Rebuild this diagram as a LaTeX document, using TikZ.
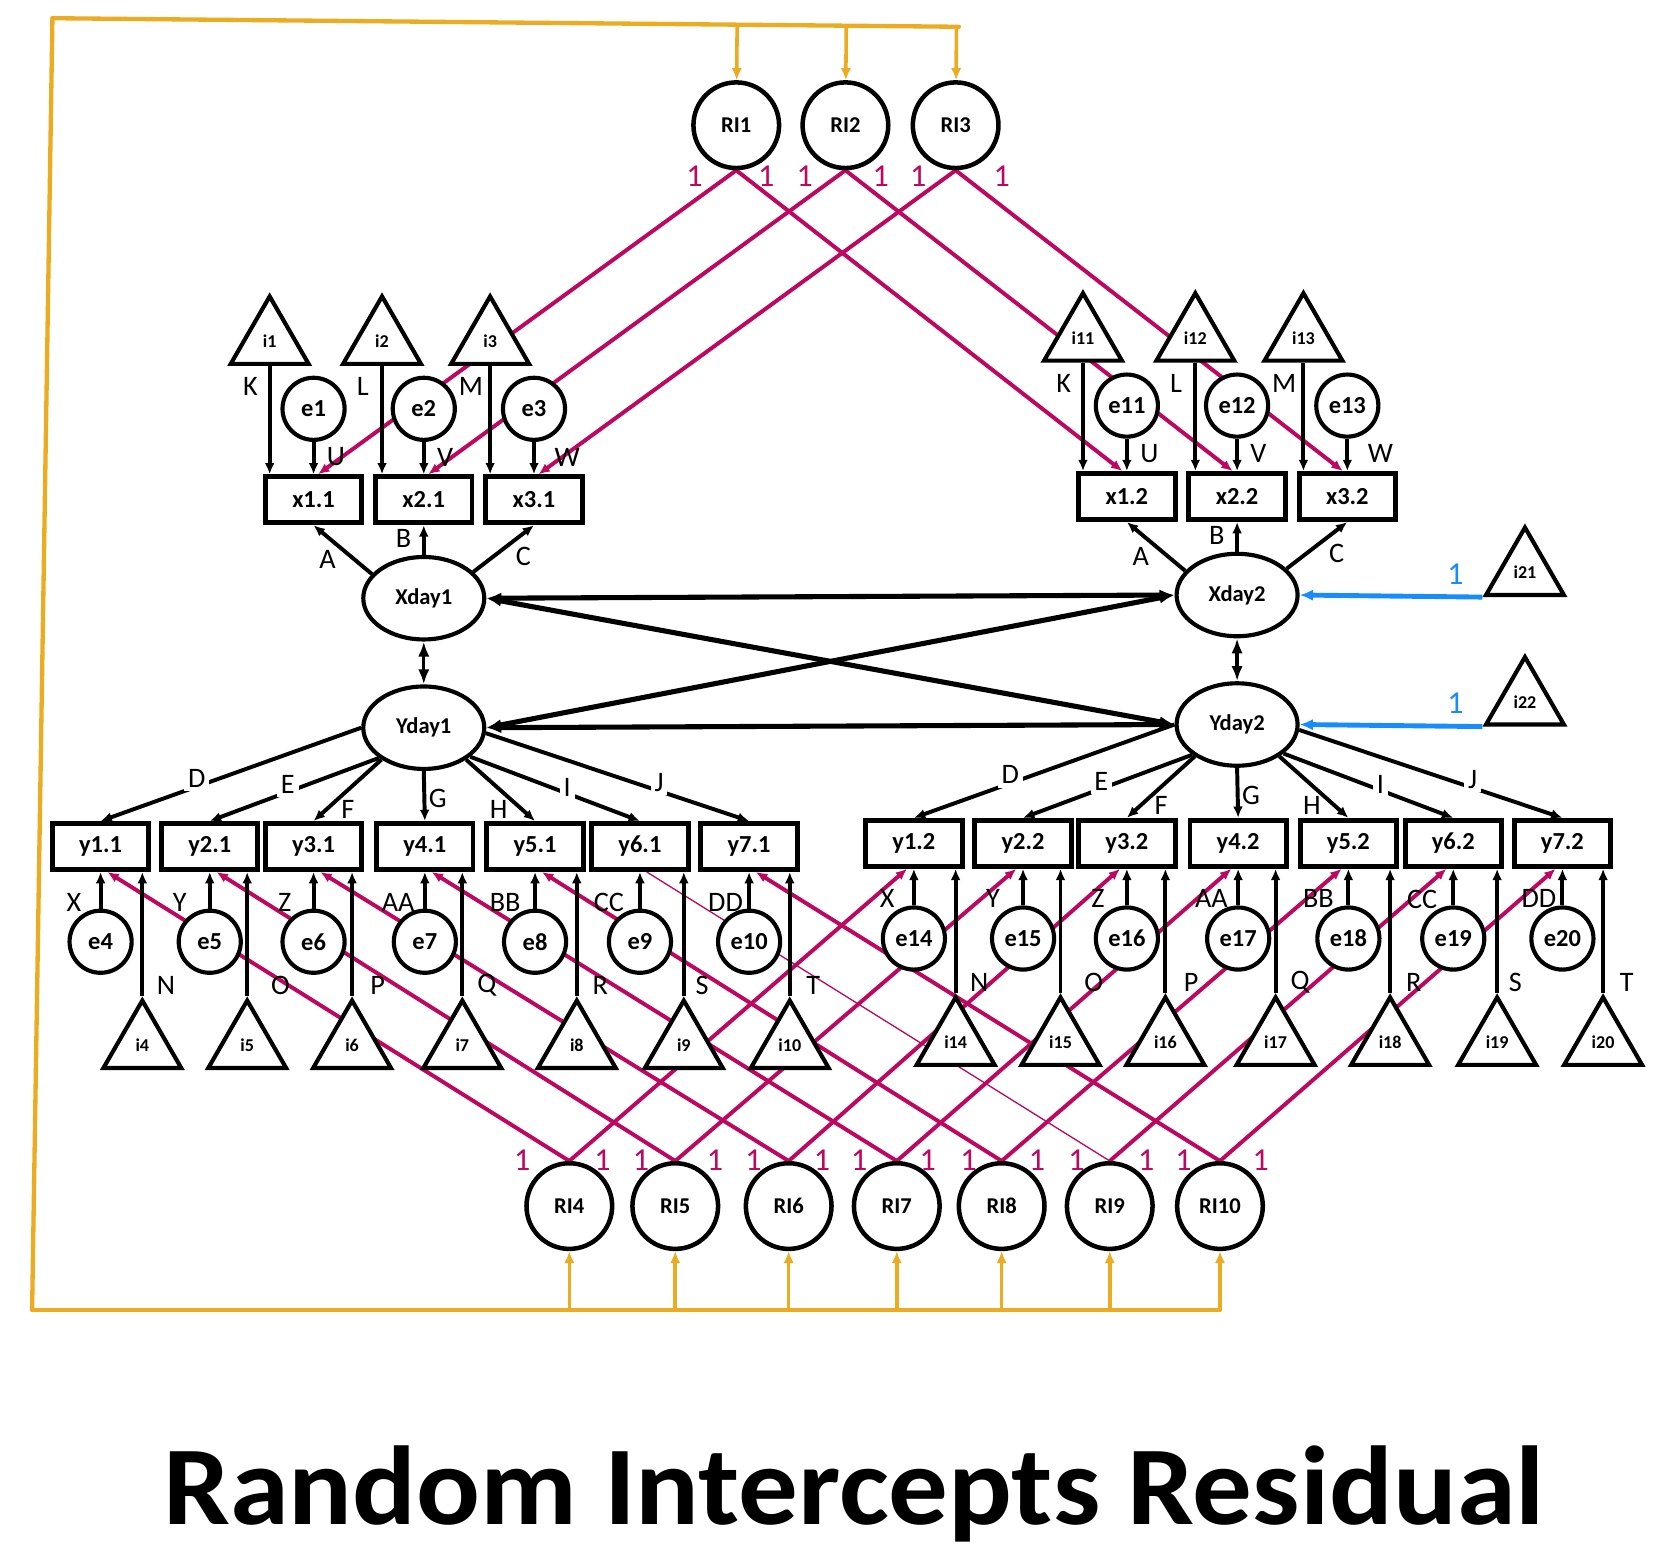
\documentclass[tikz,border=0pt]{standalone}
\usepackage{fontspec}
\setmainfont{Carlito}
\usepackage{graphicx}
\usetikzlibrary{arrows,arrows.meta,calc,shapes.geometric}
\usepackage{tkz-euclide}
\definecolor{riRed}{RGB}{190,8,96}
\definecolor{frOrange}{RGB}{236,172,34}
\definecolor{mnBlue}{RGB}{24,140,250}
\pgfdeclarelayer{back}
\pgfsetlayers{back,main}

\begin{document}
\begin{tikzpicture}[x=0.01cm,y=-0.01cm,
  ri/.style={circle,draw,line width=1.2pt,fill=white,minimum size=0.8cm,inner sep=0pt,font=\fontsize{6}{7}\selectfont\bfseries},
  lat/.style={ellipse,draw,line width=1.1pt,fill=white,minimum width=1.13cm,minimum height=0.77cm,inner sep=0pt,font=\fontsize{6}{7}\selectfont\bfseries},
  obs/.style={rectangle,draw,line width=1.3pt,fill=white,minimum width=0.9cm,minimum height=0.43cm,inner sep=0pt,font=\fontsize{6.5}{7}\selectfont\bfseries},
  err/.style={circle,draw,line width=1.1pt,fill=white,minimum size=0.58cm,inner sep=0pt,font=\fontsize{6.5}{7}\selectfont\bfseries},
  icpt/.style={regular polygon,regular polygon sides=3,draw,line width=1.1pt,fill=white,minimum size=0.84cm,inner sep=0pt,font=\fontsize{4.8}{5}\selectfont\bfseries},
  lbl/.style={font=\fontsize{7.5}{8}\selectfont,inner sep=1pt},
  one/.style={font=\fontsize{8.5}{9}\selectfont,text=riRed,inner sep=0pt},
  ld/.style={-{Latex[length=3pt,width=2.6pt]},line width=1.05pt},
  cov/.style={{Latex[length=4pt,width=3pt]}-{Latex[length=4pt,width=3pt]},line width=1.35pt},
  rip/.style={-{Latex[length=3pt,width=2.6pt]},line width=1.05pt,draw=riRed},
  frm/.style={-{Latex[length=3.2pt,width=2.8pt]},line width=0.95pt,draw=frOrange},
  mn/.style={-{Latex[length=3.5pt,width=3pt]},line width=1.3pt,draw=mnBlue}]
\useasboundingbox (0,0) rectangle (1568,1450);

\foreach \wv/\sx/\sy in {1/0/0,2/760/-3}{
\begin{scope}[shift={(\sx,\sy)}]
\pgfmathtruncatemacro\of{10*(\wv-1)}
\node[lat] (Xday\wv) at (396,559) {Xday\wv};
\node[lat] (Yday\wv) at (396,680) {Yday\wv};
\draw[cov,line width=0.9pt] (Xday\wv) -- (Yday\wv);

\foreach \m/\x/\ix/\pk/\pu/\uo in {1/293/252/K/U/21,2/396/357/L/V/20,3/499/458/M/W/31}{
\pgfmathtruncatemacro\n{\m+\of}
\node[obs] (x\m\wv) at (\x,467) {x\m.\wv};
\node[err] (e\n) at (\x,382) {e\n};
\node[icpt] (i\n) at (\ix,319) {i\n};
\draw[ld] (e\n) -- (x\m\wv);
\draw[ld] (i\n.south) -- (i\n.south |- x\m\wv.north);
\node[lbl] (lk\n) at (\ix-18,361) {\pk};
\node[lbl] (lu\n) at (\x+\uo,427) {\pu};
}
\draw[ld] (Xday\wv.155) -- (x1\wv.south);
\draw[ld] (Xday\wv.north) -- (x2\wv.south);
\draw[ld] (Xday\wv.28) -- (x3\wv.south);
\node[lbl] (la\wv) at (306,523) {A};
\node[lbl] (lb\wv) at (377,503) {B};
\node[lbl] (lc\wv) at (489,520) {C};

\foreach \m/\x/\ix/\ea/\eo/\ia/\io in {1/94/133/X/-25/N/22,2/196/231/Y/-28/O/31,3/293/329/Z/-27/P/24,4/397/432/AA/-25/Q/23,5/500/539/BB/-28/R/22,6/598/639/CC/-29/S/17,7/700/738/DD/-22/T/22}{
\pgfmathtruncatemacro\n{\m+\of+3}
\node[obs] (y\m\wv) at (\x,791) {y\m.\wv};
\node[err] (e\n) at (\x,880) {e\n};
\node[icpt] (i\n) at (\ix,977) {i\n};
\draw[ld] (e\n) -- (y\m\wv);
\draw[ld] (i\n.north) -- (i\n.north |- y\m\wv.south);
\node[lbl] (le\n) at (\x+\eo,843) {\ea};
\node[lbl] (li\n) at (\ix+\io,921) {\ia};
}
\foreach \m/\ang/\lx/\ly/\fc/\la in {1/180/184/727/white/D,2/214/269/733/white/E,3/217/325/756/none/F,4/270/409/746/none/G,5/323/466/756/none/H,6/328/530/736/white/I,7/355/616/731/white/J}{
\draw[ld] (Yday\wv.\ang) -- (y\m\wv.north);
\node[lbl,fill=\fc] (ly\m\wv) at (\lx,\ly) {\la};
}
\end{scope}
}

\node[icpt] (i21) at (1425,535) {i21};
\node[icpt] (i22) at (1425,656) {i22};
\draw[mn] (i21.corner 2) -- (Xday2.east);
\draw[mn] (i22.corner 2) -- (Yday2.east);
\node[one,text=mnBlue] (m21) at (1360,537) {1};
\node[one,text=mnBlue] (m22) at (1360,657) {1};

\draw[cov] (Xday1.east) -- (Xday2.west);
\draw[cov] (Yday1.east) -- (Yday2.west);
\draw[cov] (Xday1.east) -- (Yday2.west);
\draw[cov] (Yday1.east) -- (Xday2.west);

\foreach \r/\x in {1/688,2/790,3/893}
  \node[ri] (RI\r) at (\x,117) {RI\r};
\foreach \r/\x in {4/532,5/631,6/737,7/838,8/936,9/1037,10/1140}
  \node[ri] (RI\r) at (\x,1127) {RI\r};

\begin{pgfonlayer}{back}
\foreach \r in {1,2,3}{
  \draw[rip] (RI\r.south) -- (x\r1.80);
  \draw[rip] (RI\r.south) -- (x\r2.100);
}
\foreach \r/\m in {4/1,5/2,6/3,7/4,8/5,9/6,10/7}
  \draw[rip] (RI\r.north) -- (y\m2.-105);
\foreach \r/\m in {4/1,5/2,6/3,7/4,8/5,10/7}
  \draw[rip] (RI\r.north) -- (y\m1.-75);
\draw[riRed,line width=0.35pt] (RI9.north) -- (y61.-75);
\end{pgfonlayer}

\foreach \r/\pl/\pr in {1/649/716,2/752/823,3/858/936}{
  \node[one] (ta\r) at (\pl,165) {1};
  \node[one] (tb\r) at (\pr,165) {1};
}
\foreach \r/\pl/\pr in {4/488/563,5/599/668,6/704/768,7/803/867,8/905/969,9/1006/1071,10/1106/1178}{
  \node[one] (ba\r) at (\pl,1084) {1};
  \node[one] (bb\r) at (\pr,1084) {1};
}

\tkzDefPoints{49/17/tl,896/25/tr,30/1224/bl,1140/1224/br}
\tkzSetUpLine[line width=1.15pt,color=frOrange]
\tkzDrawSegments(tl,tr tl,bl bl,br)
\foreach \r in {1,2,3}
  \draw[frm] ($(tl)!(RI\r)!(tr)$) -- (RI\r);
\foreach \r in {4,...,10}
  \draw[frm] (RI\r |- bl) -- (RI\r);

\node[anchor=south,inner sep=0pt] (title) at (798,1442) {\resizebox*{12.9cm}{0.9cm}{\bfseries Random Intercepts Residual}};

\end{tikzpicture}
\end{document}
